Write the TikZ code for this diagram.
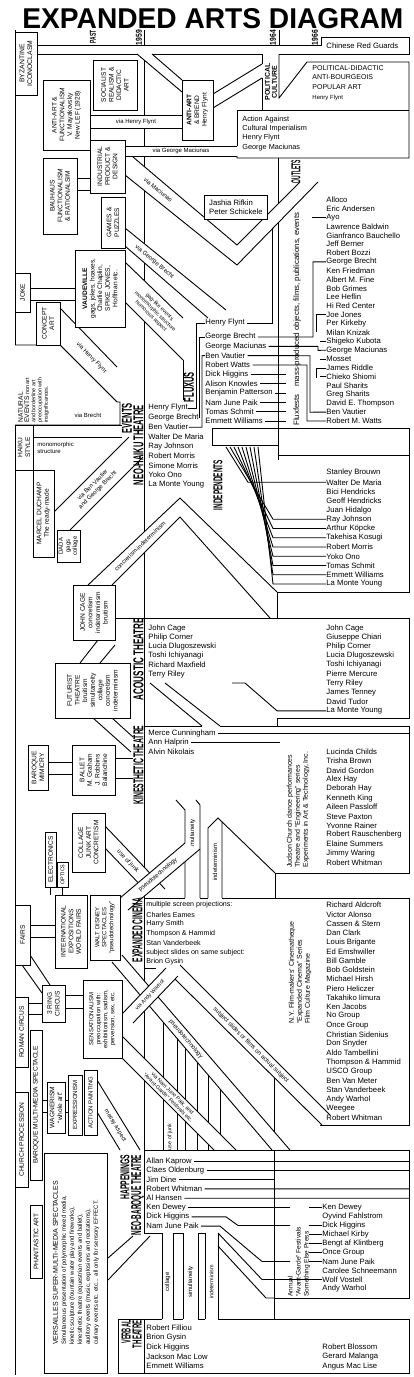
\documentclass[tikz,border=0pt]{standalone}
\usepackage{graphicx}
\usepackage{fontspec}
\setmainfont{Liberation Sans}
\usetikzlibrary{positioning}

\newcommand{\vhead}[3]{\resizebox{#1pt}{#2pt}{\bfseries #3}}
\newcommand{\namefont}{\fontsize{7.7}{8.8}\selectfont}
\newcommand{\boxfont}{\fontsize{6.6}{7.6}\selectfont}
\newcommand{\labelfont}{\fontsize{6}{7}\selectfont}
\newcommand{\smallfont}{\fontsize{5.4}{6.2}\selectfont}
\newcommand{\pipe}[4]{\fill[white] #1 -- #2 -- #4 -- #3 -- cycle; \draw #1 -- #2 #3 -- #4;}
\newcommand{\histbox}[7][\boxfont]{\node[box, font=#1, minimum width={#6-#4}, minimum height={#5-#3}] (#2) at ({(#3+#5)/2},{(#4+#6)/2}) {#7};}

\begin{document}
\begin{tikzpicture}[
x=1pt, y=-1pt, line width=0.9pt,
box/.style={draw, fill=white, rotate=90, align=center, inner sep=0.5pt},
nm/.style={anchor=west, inner sep=0pt, font=\namefont},
hd/.style={rotate=90, inner sep=0pt},
lbl/.style={sloped, inner sep=0pt, font=\labelfont, align=center},
vtext/.style={rotate=90, anchor=west, align=left, inner sep=0pt, font=\labelfont}
]
\useasboundingbox (0,0) rectangle (414,1377);

\node[anchor=north west, inner sep=0pt] (title) at (22,8)
{\resizebox{381pt}{20pt}{\bfseries EXPANDED ARTS DIAGRAM}};
\node[hd] (past) at (93,37) {\vhead{13}{6}{PAST}};
\node[hd] (y59) at (139,37.5) {\vhead{15}{6}{1959}};
\node[hd] (y64) at (273,37.5) {\vhead{15}{6}{1964}};
\node[hd] (y66) at (315,37.5) {\vhead{15}{6}{1966}};

\draw (15,30) -- (15,1375);
\draw (144,30) -- (144,45) (144,54) -- (144,1233) (144,1319) -- (144,1373);
\draw (279,30) -- (279,45);
\draw (37,45) -- (321,45) -- (321,37) -- (409,37) -- (409,54) -- (279,54);
\draw (262,54) -- (152,54) (137,54) -- (37,54);
\draw (278,158) -- (278,460);
\draw (274,1078) -- (274,1319);

\pipe{(137,54)}{(182,92)}{(152,54)}{(182,80)}
\pipe{(90,115)}{(182,115)}{(90,128)}{(182,128)}
\pipe{(125,146)}{(237,146)}{(125,156)}{(237,156)}
\pipe{(213,94)}{(262,64)}{(213,108)}{(262,78)}
\pipe{(77,178)}{(90,178)}{(77,190)}{(90,190)}
\pipe{(30,288)}{(75,288)}{(30,300)}{(75,300)}

\draw (262,54) -- (262,64) (262,78) -- (262,110);
\draw (279,54) -- (279,98) -- (307,62) -- (409,62) -- (409,158) -- (237,158) -- (237,156);
\draw (237,146) -- (237,110) -- (409,110);

\fill[white] (125,175) -- (237,265) -- (318,182) -- (300,182) -- (237,245) -- (133,157) -- cycle;
\draw (125,175) -- (237,265) -- (318,182);
\draw (133,157) -- (237,245) -- (300,182);
\path (129,166) -- (237,255) node[lbl, pos=0.27] (vmac) {via Maciunas};

\pipe{(125,228)}{(226,310)}{(125,246)}{(208,318)}
\path (125,237) -- (217,314) node[lbl, pos=0.32] (vgb) {via George Brecht};
\pipe{(125,262)}{(183,318)}{(125,302)}{(183,360)}
\path (125,282) -- (183,339) node[lbl, pos=0.52, font=\smallfont] (gag) {gag-like events\\monomorphic structure\\humorous aspect};
\pipe{(60,308)}{(117,367)}{(60,345)}{(117,402)}
\path (60,326) -- (117,384) node[lbl, pos=0.55] (vhf2) {via Henry Flynt};

\draw[fill=white] (15,345) -- (60,345) -- (117,402) -- (120,402) -- (120,425) -- (15,425);
\pipe{(33,425)}{(122,425)}{(33,437)}{(122,437)}
\pipe{(54,512)}{(129,437)}{(70,530)}{(143,457)}
\path (62,521) -- (136,447) node[lbl, pos=0.45] (vbv) {via Ben Vautier\\and George Brecht};

\fill[white] (88,585) -- (180,498) -- (277,592) -- (277,618) -- (270,618) -- (180,517) -- (112,585) -- cycle;
\draw (88,585) -- (180,498) -- (277,592);
\draw (112,585) -- (180,517) -- (270,618);
\path (100,585) -- (180,507.5) node[lbl, pos=0.5] (conind) {concretism-indeterminism};

\draw (212,428) -- (409,428) -- (409,455);
\draw (212,428) -- (212,445) -- (278,445);
\draw (183,360) -- (183,400);
\draw (278,455) -- (409,455) -- (409,592) -- (277,592) -- (277,618);
\draw (115,618) -- (409,618) -- (409,718) -- (277,718) -- (277,726) -- (409,726) -- (409,873) -- (275,873) -- (275,898);
\draw (144,726) -- (202,726) (220,726) -- (277,726);

\pipe{(150,683)}{(202,726)}{(165,683)}{(220,726)}
\pipe{(93,718)}{(131,752)}{(112,718)}{(133,737)}
\pipe{(98,640)}{(80,663)}{(115,645)}{(100,663)}
\pipe{(48,762)}{(72,762)}{(48,774)}{(72,774)}
\pipe{(115,758)}{(133,758)}{(115,778)}{(133,778)}

\draw (176,800) -- (185,810) -- (185,898) (196,800) -- (200,805) -- (200,898);
\draw (222,898) -- (222,822) (208,898) -- (208,828) -- (218,818) -- (275,873);
\node[rotate=90, font=\labelfont] (simul1) at (192.5,835) {simultaneity};
\node[rotate=90, font=\labelfont] (indet1) at (215,862) {indeterminism};

\pipe{(105,826)}{(165,889)}{(105,848)}{(148,893)}
\path (105,837) -- (156,891) node[lbl, pos=0.45] (junk1) {use of junk};
\pipe{(120,898)}{(185,843)}{(128,910)}{(200,849)}
\path (124,904) -- (192,846) node[lbl, pos=0.5] (pseudo1) {pseudotechnology};

\draw (144,898) -- (185,898) (200,898) -- (208,898) (222,898) -- (409,898) -- (409,1125) -- (320,1125);
\draw (144,968) -- (156,968);

\pipe{(180,965)}{(330,1115)}{(172,976)}{(322,1125)}
\path (176,970.5) -- (326,1120) node[lbl, pos=0.5] (subj) {subject slides or films on actual subject};
\pipe{(122,955)}{(290,1150)}{(112,962)}{(272,1150)}
\path (117,958.5) -- (281,1150) node[lbl, pos=0.42] (pseudo2) {pseudotechnology};
\pipe{(123,1013)}{(166,968)}{(133,1023)}{(178,976)}
\path (128,1018) -- (172,972) node[lbl, pos=0.5, font=\smallfont] (warhol) {via Andy Warhol};
\pipe{(122,1036)}{(236,1150)}{(122,1058)}{(214,1150)}
\path (122,1047) -- (225,1150) node[lbl, pos=0.47, font=\smallfont] (njp) {via Nam June Paik, and\\``Avant-Garde'' Festivals etc.};
\pipe{(97,1080)}{(140,1150)}{(97,1112)}{(120,1150)}
\path (97,1096) -- (130,1150) node[lbl, pos=0.55] (messy) {messy aspect};

\foreach \x in {163,177,185,197,208,220}
  \draw (\x,{962+(\x-112)*1.175}) -- (\x,{1036+\x-122});
\foreach \x in {163,177,185,197,208}
  \draw (\x,{1058+\x-122}) -- (\x,1150);
\node[rotate=90, font=\smallfont] (junk2) at (170,1137) {use of junk};

\draw (144,1150) -- (409,1150) -- (409,1298) -- (274,1298);
\draw (144,1233) -- (162,1233) (173,1233) -- (183,1233) (198,1233) -- (205,1233);
\draw (218,1246) -- (266,1298) -- (274,1298);
\pipe{(108,1258)}{(133,1236)}{(108,1280)}{(150,1236)}

\draw (118,1319) -- (162,1319) (173,1319) -- (183,1319) (198,1319) -- (205,1319) (218,1319) -- (409,1319);
\draw (118,1319) -- (118,1373) -- (409,1373) -- (409,1319);
\draw (162,1233) -- (162,1319) (173,1233) -- (173,1319) (183,1233) -- (183,1319)
      (198,1233) -- (198,1319) (205,1233) -- (205,1319) (218,1233) -- (218,1319);
\node[rotate=90, font=\labelfont] (collage2) at (167.5,1282) {collage};
\node[rotate=90, font=\labelfont] (simul2) at (190.5,1282) {simultaneity};
\node[rotate=90, font=\smallfont] (indet2) at (211.5,1282) {indeterminism};

\pipe{(30,925)}{(55,925)}{(30,937)}{(55,937)}
\pipe{(30,955)}{(50,985)}{(22,965)}{(42,993)}
\pipe{(28,1003)}{(42,1003)}{(28,1014)}{(42,1014)}
\pipe{(65,995)}{(83,995)}{(65,1008)}{(83,1008)}
\pipe{(42,1100)}{(47,1100)}{(42,1112)}{(47,1112)}
\pipe{(65,1100)}{(68,1100)}{(65,1112)}{(68,1112)}
\draw (50,887) -- (50,895) (62,887) -- (62,895);

\histbox[\fontsize{6.8}{7.8}\selectfont]{byz}{15}{32}{37}{95}{BYZANTINE\\ICONOCLASM}
\histbox{lef}{43}{80}{90}{150}{ANTI-ART \&\\FUNCTIONALISM\\V. Mayakovsky\\New LEF (1928)}
\histbox{socre}{93}{60}{137}{110}{SOCIALIST\\REALISM \&\\DIDACTIC\\ART}
\histbox{brend}{182}{80}{213}{140}{{\bfseries ANTI-ART}\\\& BREND\\Henry Flynt}
\histbox{indus}{90}{140}{125}{193}{INDUSTRIAL\\PRODUCT \&\\DESIGN}
\histbox{bauhaus}{43}{158}{77}{234}{BAUHAUS\\FUNCTIONALISM\\\& RATIONALSIM}
\histbox{games}{101}{197}{125}{248}{GAMES \&\\PUZZLES}
\histbox{joke}{15}{273}{30}{312}{JOKE}
\histbox{vaud}{75}{250}{125}{327}{{\bfseries VAUDEVILLE}\\gags, jokes, hoaxes,\\Charlie Chaplin,\\SPIKE JONES,\\Hoffman etc.}
\histbox{concept}{36}{302}{60}{345}{CONCEPT\\ART}
\histbox{haiku}{15}{425}{33}{470}{HAIKU\\STYLE}
\histbox{duchamp}{33}{470}{54}{557}{MARCEL DUCHAMP\\The ready-made}
\histbox[\labelfont]{dada}{57}{530}{80}{562}{DADA\\gags\\collage}
\histbox{cage}{73}{585}{115}{640}{JOHN CAGE\\concretism\\indeterminism\\bruitism}
\histbox{futurist}{55}{663}{130}{718}{FUTURIST\\THEATRE\\bruitism\\simultaneity\\collage\\concretism\\indeterminism}
\histbox{mimicry}{28}{745}{48}{790}{BAROQUE\\MIMICRY}
\histbox{ballet}{72}{745}{115}{795}{BALLET\\M. Graham\\J. Robbins\\Balanchine}
\histbox{electronics}{45}{832}{56}{887}{ELECTRONICS}
\histbox[\smallfont]{optics}{57}{862}{68}{887}{OPTICS}
\histbox{junkart}{72}{813}{105}{872}{COLLAGE\\JUNK ART\\CONCRETISM}
\histbox{fairs}{15}{905}{30}{965}{FAIRS}
\histbox{expo}{55}{895}{87}{968}{INTERNATIONAL\\EXPOSITIONS\\WORLD FAIRS}
\histbox[\labelfont]{disney}{90}{895}{120}{960}{WALT DISNEY\\SPECTACLES\\``pseudotechnology''}
\histbox{ring}{42}{985}{65}{1022}{3 RING\\CIRCUS}
\histbox{roman}{15}{997}{28}{1067}{ROMAN CIRCUS}
\histbox[\labelfont]{sens}{83}{980}{122}{1058}{SENSATIONALISM\\preoccupation with:\\exhibitionism, sadism,\\perversion, sex, etc.}
\histbox{bmms}{30}{1030}{42}{1180}{BAROQUE MULTI-MEDIA SPECTACLE}
\histbox{church}{15}{1092}{28}{1187}{CHURCH PROCESSION}
\histbox{wagner}{47}{1082}{65}{1133}{WAGNERISM\\``whole art''}
\histbox[\labelfont]{expr}{68}{1075}{82}{1135}{EXPRESSIONISM}
\histbox[\labelfont]{actpaint}{84}{1070}{97}{1135}{ACTION PAINTING}
\histbox{phant}{30}{1205}{42}{1278}{PHANTASTIC ART}
\node[box, font=\fontsize{6}{8}\selectfont, align=left, minimum width=220, minimum height=63] (versailles) at (76,1263)
{{\fontsize{7}{8}\selectfont VERSAILLES SUPER-MULTI-MEDIA SPECTACLES}\\
Simultaneous presentation of polymorphic mixed media,\\
kinetic sculpture (fountain water play and fireworks),\\
kinesthetic theatre (equestrian events and ballet),\\
auditory events (music, explosions and recitations),\\
culinary events etc. etc... all only for sensory EFFECT.};

\node[rotate=90, anchor=north west, align=left, inner sep=0pt, font=\smallfont] (natural) at (18,423)
{{\boxfont NATURAL}\\{\boxfont EVENTS} non art\\and borderline art\\preoccupation with\\insignificances.};
\node[font=\labelfont] (vbrecht) at (88,415) {via Brecht};
\node[anchor=west, align=left, inner sep=0pt, font=\labelfont] (mono) at (37,448) {monomorphic\\structure};
\node[font=\labelfont] (vhf1) at (136,121.5) {via Henry Flynt};
\node[font=\labelfont] (vgm) at (181,151) {via George Maciunas};

\node[hd] (polcult) at (271,82) {\vhead{37}{12}{\shortstack{POLITICAL\\CULTURE}}};
\node[anchor=north west, inner sep=0pt, align=left, font=\fontsize{7}{9.6}\selectfont] (poldid) at (312,65)
{POLITICAL-DIDACTIC\\ANTI-BOURGEOIS\\POPULAR ART\\{\fontsize{6}{7}\selectfont Henry Flynt}};
\node[anchor=north west, inner sep=0pt, align=left, font=\fontsize{7.3}{9.3}\selectfont] (action) at (242,115.5)
{Action Against\\Cultural Imperialism\\Henry Flynt\\George Maciunas};
\node[nm] (redg) at (326,46) {Chinese Red Guards};
\node[draw, fill=white, align=left, font=\namefont, inner sep=2pt, anchor=north west, minimum width=63, minimum height=24] (rifkin) at (204,195)
{Jashia Rifkin\\Peter Schickele};

\node[hd] (outlets) at (296,171.5) {\vhead{23}{9}{OUTLETS}};
\node[hd] (fluxus) at (189,387) {\vhead{30}{10}{FLUXUS}};
\node[hd] (events) at (127,418) {\vhead{30}{10}{EVENTS}};
\node[hd] (neohaiku) at (138.5,445) {\vhead{80}{10}{NEO-HAIKU THEATRE}};
\node[hd] (indep) at (218,485) {\vhead{50}{9}{INDEPENDENTS}};
\node[hd] (acoustic) at (138.5,659) {\vhead{82}{10}{ACOUSTIC THEATRE}};
\node[hd] (kinesth) at (138.5,765) {\vhead{79}{10}{KINESTHETIC THEATRE}};
\node[hd] (cinema) at (137.5,930) {\vhead{64}{10}{EXPANDED CINEMA}};
\node[hd] (happen) at (125,1177) {\vhead{45}{9}{HAPPENINGS}};
\node[hd] (neobaroque) at (137.5,1195) {\vhead{80}{10}{NEO-BAROQUE THEATRE}};
\node[hd] (verbal) at (126,1332) {\vhead{23}{9}{VERBAL}};
\node[hd] (verbalth) at (137,1334) {\vhead{28}{9}{THEATRE}};

\node[vtext, font=\fontsize{7.8}{9}\selectfont] (fluxfest) at (297,426) {Fluxfests\quad mass-produced objects, films, publications, events};
\node[vtext, font=\fontsize{7}{8}\selectfont] (judson) at (298,868) {Judson Church dance performances\\Theatre and ``Engineering'' series\\Experiments in Art \& Technology, Inc.};
\node[vtext, font=\fontsize{7}{8}\selectfont] (cinematheque) at (300,1024) {N.Y. Film-makers' Cinematheque\\``Expanded Cinema'' Series\\Film Culture Magazine};
\node[vtext, font=\fontsize{6.6}{8}\selectfont] (avant) at (299,1297) {Annual\\``Avant-Garde'' Festivals\\Something Else Press};

\foreach \n [count=\i from 0] in {Alloco, Eric Andersen, Ayo, Lawrence Baldwin, Gianfranco Bauchello, Jeff Berner, Robert Bozzi, George Brecht, Ken Friedman, Albert M. Fine, Bob Grimes, Lee Heflin, Hi Red Center, Joe Jones, Per Kirkeby, Milan Knizak, Shigeko Kubota, George Maciunas, Mosset, James Riddle, Chieko Shiomi, Paul Sharits, Greg Sharits, David E. Thompson, Ben Vautier, Robert M. Watts}
  \node[nm] (out\i) at (326,{200+8.84*\i}) {\n};
\node[nm] (fx0) at (205,323) {Henry Flynt};
\foreach \n [count=\i from 1] in {George Brecht, George Maciunas, Ben Vautier, Robert Watts, Dick Higgins, Alison Knowles, Benjamin Patterson, Nam June Paik, Tomas Schmit, Emmett Williams}
  \node[nm] (fx\i) at (205,{337+9.33*(\i-1)}) {\n};
\foreach \n [count=\i from 0] in {Henry Flynt, George Brecht, Ben Vautier, Walter De Maria, Ray Johnson, Robert Morris, Simone Morris, Yoko Ono, La Monte Young}
  \node[nm] (nh\i) at (148,{408+9.6*\i}) {\n};
\foreach \n [count=\i from 0] in {Stanley Brouwn, Walter De Maria, Bici Hendricks, Geoff Hendricks, Juan Hidalgo, Ray Johnson, Arthur Köpcke, Takehisa Kosugi, Robert Morris, Yoko Ono, Tomas Schmit, Emmett Williams, La Monte Young}
  \node[nm] (in\i) at (326,{473+9.25*\i}) {\n};
\foreach \n [count=\i from 0] in {John Cage, Philip Corner, Lucia Dlugoszewski, Toshi Ichiyanagi, Richard Maxfield, Terry Riley}
  \node[nm] (ac\i) at (148,{628+9.2*\i}) {\n};
\foreach \n [count=\i from 0] in {John Cage, Giuseppe Chiari, Philip Corner, Lucia Dlugoszewski, Toshi Ichiyanagi, Pierre Mercure, Terry Riley, James Tenney, David Tudor, La Monte Young}
  \node[nm] (ar\i) at (326,{628+9.2*\i}) {\n};
\foreach \n [count=\i from 0] in {Merce Cunningham, Ann Halprin, Alvin Nikolais}
  \node[nm] (kn\i) at (148,{733+9.5*\i}) {\n};
\foreach \n [count=\i from 0] in {Lucinda Childs, Trisha Brown, David Gordon, Alex Hay, Deborah Hay, Kenneth King, Aileen Passloff, Steve Paxton, Yvonne Rainer, Robert Rauschenberg, Elaine Summers, Jimmy Waring, Robert Whitman}
  \node[nm] (kr\i) at (326,{752+9.2*\i}) {\n};
\foreach \n [count=\i from 0] in {multiple screen projections:, Charles Eames, Harry Smith, Thompson \& Hammid, Stan Vanderbeek, subject slides on same subject:, Brion Gysin}
  \node[nm, font=\fontsize{7.1}{8.8}\selectfont] (cn\i) at (146,{905+9.5*\i}) {\n};
\foreach \n [count=\i from 0] in {Richard Aldcroft, Victor Alonso, Cassen \& Stern, Dan Clark, Louis Brigante, Ed Emshwiller, Bill Gamble, Bob Goldstein, Michael Hirsh, Piero Heliczer, Takahiko Iimura, Ken Jacobs, No Group, Once Group, Christian Sidenius, Don Snyder, Aldo Tambellini, Thompson \& Hammid, USCO Group, Ben Van Meter, Stan Vanderbeek, Andy Warhol, Weegee, Robert Whitman}
  \node[nm] (cr\i) at (326,{905+9.25*\i}) {\n};
\foreach \n [count=\i from 0] in {Allan Kaprow, Claes Oldenburg, Jim Dine, Robert Whitman, Al Hansen, Ken Dewey, Dick Higgins, Nam June Paik}
  \node[nm] (hp\i) at (146,{1161+9.3*\i}) {\n};
\foreach \n [count=\i from 0] in {Ken Dewey, Oyvind Fahlstrom, Dick Higgins, Michael Kirby, Bengt af Klintberg, Once Group, Nam June Paik, Carolee Schneemann, Wolf Vostell, Andy Warhol}
  \node[nm] (hr\i) at (322,{1207.5+9*\i}) {\n};
\foreach \n [count=\i from 0] in {Robert Filliou, Brion Gysin, Dick Higgins, Jackson Mac Low, Emmett Williams}
  \node[nm] (vb\i) at (146,{1328+9.5*\i}) {\n};
\foreach \n [count=\i from 0] in {Robert Blossom, Gerard Malanga, Angus Mac Lise}
  \node[nm] (vr\i) at (322,{1347+9.5*\i}) {\n};

\draw (nh0.east) -- (196,408) -- (196,323) -- (fx0.west);
\draw (nh1.east) -- (199,417.6) -- (199,337) -- (fx1.west);
\draw (nh2.east) -- (202,427.2) -- (202,355.7) -- (fx3.west);
\draw (fx0.east) ++(2,0) -- (272,323) -- (272,229);
\draw (fx1.east) ++(2,0) -- (313,337) -- (313,261.9) -- (out7.west);
\draw (fx2.east) ++(2,0) -- (318,346.3) -- (318,350.3) -- (out17.west);
\draw (fx3.east) ++(2,0) -- (310,355.7) -- (310,412.2) -- (out24.west);
\draw (fx4.east) ++(2,0) -- (307,365) -- (307,421) -- (out25.west);
\foreach \i in {5,...,10}
  \draw (fx\i.east) ++(2,0) -- (286,{337+9.33*(\i-1)});
\foreach \i/\x in {2/312, 13/316, 16/320, 18/320, 19/316, 20/320}
  \draw (\x,{200+8.84*\i}) -- (out\i.west);
\draw (316,314.9) -- (316,332) (316,368) -- (316,378);

\draw (226,447) -- (248,482.25) -- (in1.west);
\foreach \k/\t in {1/5,2/6,3/7,4/8,5/9,6/10,7/11,8/12}
  \draw ({226+4*\k},447) -- (273,{473+9.25*\t}) -- (in\t.west);

\draw (232,683) -- (245,683) -- (277,710.8) -- (ar9.west);
\draw (kn0.east) ++(2,0) -- (409,733);
\draw (kn1.east) ++(2,0) -- (280,742.5);

\draw (hp0.east) ++(2,0) -- (409,1161);
\draw (hp1.east) ++(2,0) -- (409,1170.3);
\draw (hp2.east) ++(2,0) -- (274,1179.6);
\draw (hp3.east) ++(2,0) -- (409,1188.9);
\draw (hp4.east) ++(2,0) -- (409,1198.2);
\draw (hp5.east) ++(2,0) -- (290,1207.5) (309,1207.5) -- (hr0.west);
\draw (hp6.east) ++(2,0) -- (226,1216.8) -- (238,1225.5) -- (290,1225.5) (309,1225.5) -- (hr2.west);
\draw (hp7.east) ++(2,0) -- (220,1226.1) -- (262,1261.5) -- (290,1261.5) (309,1261.5) -- (hr6.west);
\foreach \i in {3,4,5}
  \draw (309,{1207.5+9*\i}) -- (hr\i.west);
\draw (218,1233) -- (262,1279.5) -- (hr8.west);

\end{tikzpicture}
\end{document}
